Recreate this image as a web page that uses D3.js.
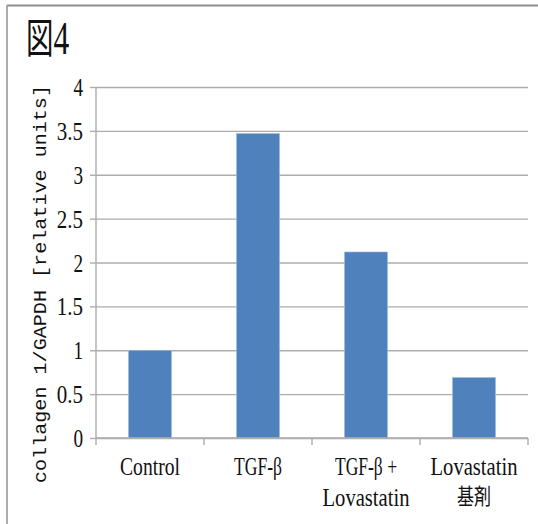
<!DOCTYPE html>
<html>
<head>
<meta charset="utf-8">
<script src="https://cdn.jsdelivr.net/npm/d3@7"></script>
<style>
  html, body { margin: 0; padding: 0; background: #fff; }
  svg { display: block; }
</style>
</head>
<body>
<svg id="chart" width="538" height="524"></svg>
<script>
// Data
const categories = ["Control", "TGF-β", "TGF-β+Lovastatin", "Lovastatin基剤"];
const categoryLines = [["Control"], ["TGF-β"], ["TGF-β +", "Lovastatin"], ["Lovastatin", "基剤"]];
const values = [1.0, 3.47, 2.12, 0.69];
const yTicks = [0, 0.5, 1, 1.5, 2, 2.5, 3, 3.5, 4];
const yTickLabels = ["0", "0.5", "1", "1.5", "2", "2.5", "3", "3.5", "4"];
const yTitle = "collagen 1/GAPDH [relative units]";
const figTitle = ["図", "4"];

const svg = d3.select("#chart");
const plot = { left: 96, right: 528, top: 87, bottom: 438 };

const x = d3.scaleBand().domain(categories).range([plot.left, plot.right]).padding(0);
const y = d3.scaleLinear().domain([0, 4]).range([plot.bottom, plot.top]);

const gridColor = "#adadad";
const serif = "Liberation Serif, DejaVu Serif, Times New Roman, serif";
const cjk = "Noto Sans CJK JP, sans-serif";

// Frame lines (top and left)
svg.append("line").attr("x1", 7).attr("x2", 538).attr("y1", 5.5).attr("y2", 5.5)
  .attr("stroke", "#8e8e8e").attr("stroke-width", 2);
svg.append("line").attr("x1", 7).attr("x2", 7).attr("y1", 5).attr("y2", 524)
  .attr("stroke", "#9a9a9a").attr("stroke-width", 1.6);

// Figure title, condensed horizontally
const title = svg.append("text")
  .attr("transform", "translate(26,52.5) scale(0.67,1)")
  .attr("fill", "#111");
title.append("tspan").attr("font-family", cjk).attr("font-size", 41).text(figTitle[0]);
title.append("tspan").attr("font-family", serif).attr("font-size", 47).attr("dy", 1).text(figTitle[1]);

// Horizontal gridlines
const grid = svg.append("g").attr("transform", `translate(${plot.left},0)`)
  .call(d3.axisRight(y).tickValues(yTicks).tickSize(plot.right - plot.left).tickFormat(""));
grid.select(".domain").remove();
grid.selectAll(".tick line").attr("stroke", gridColor).attr("stroke-width", 1.4);

// Y axis with tick labels
const yAxis = svg.append("g").attr("transform", `translate(${plot.left},0)`)
  .call(d3.axisLeft(y).tickValues(yTicks).tickSize(6).tickPadding(7)
    .tickFormat((d, i) => yTickLabels[i]));
yAxis.select(".domain").attr("stroke", gridColor).attr("stroke-width", 1.4)
  .attr("d", `M0,${plot.top}V${plot.bottom}`);
yAxis.selectAll(".tick line").attr("stroke", gridColor).attr("stroke-width", 1.4);
yAxis.selectAll(".tick text")
  .attr("font-family", serif).attr("font-size", 25).attr("fill", "#111")
  .attr("dy", "0.34em")
  .attr("textLength", (d, i) => {
    const s = yTickLabels[i];
    return s.replace(".", "").length * 9.6 + (s.includes(".") ? 7 : 0);
  })
  .attr("lengthAdjust", "spacingAndGlyphs");

// Bars
svg.append("g").selectAll("rect").data(values).join("rect")
  .attr("x", (d, i) => x(categories[i]) + x.bandwidth() * 0.3)
  .attr("width", x.bandwidth() * 0.4)
  .attr("y", d => y(d))
  .attr("height", d => y(0) - y(d))
  .attr("fill", "#4f81bd")
  .attr("stroke", "#a9c1df").attr("stroke-width", 0.6);

// X axis line and category boundary ticks
const xAxis = svg.append("g");
xAxis.append("line").attr("x1", plot.left).attr("x2", plot.right)
  .attr("y1", y(0)).attr("y2", y(0)).attr("stroke", gridColor).attr("stroke-width", 1.4);
const bounds = categories.map(c => x(c)).concat([x(categories[categories.length - 1]) + x.bandwidth()]);
xAxis.selectAll("line.bound").data(bounds).join("line").attr("class", "bound")
  .attr("x1", d => d).attr("x2", d => d)
  .attr("y1", y(0)).attr("y2", y(0) + 7)
  .attr("stroke", gridColor).attr("stroke-width", 1.4);

// Category labels
const lineWidths = {
  "Control": 60, "TGF-β": 48, "TGF-β +": 62, "Lovastatin": 87, "基剤": 34
};
categoryLines.forEach((lines, i) => {
  const cx = x(categories[i]) + x.bandwidth() / 2;
  lines.forEach((txt, j) => {
    const isCJK = /[\u3040-\u9fff]/.test(txt);
    svg.append("text")
      .attr("x", cx).attr("y", j === 0 ? 475 : (isCJK ? 504 : 506))
      .attr("text-anchor", "middle")
      .attr("font-family", isCJK ? cjk : serif)
      .attr("font-size", isCJK ? 22 : 25)
      .attr("textLength", lineWidths[txt])
      .attr("lengthAdjust", "spacingAndGlyphs")
      .attr("fill", "#111")
      .text(txt);
  });
});

// Y axis title
svg.append("text")
  .attr("transform", "translate(45.5,284) rotate(-90)")
  .attr("text-anchor", "middle")
  .attr("font-family", "Liberation Mono, DejaVu Sans Mono, monospace")
  .attr("font-size", 18)
  .attr("textLength", 398).attr("lengthAdjust", "spacingAndGlyphs")
  .attr("fill", "#111")
  .text(yTitle);
</script>
</body>
</html>
